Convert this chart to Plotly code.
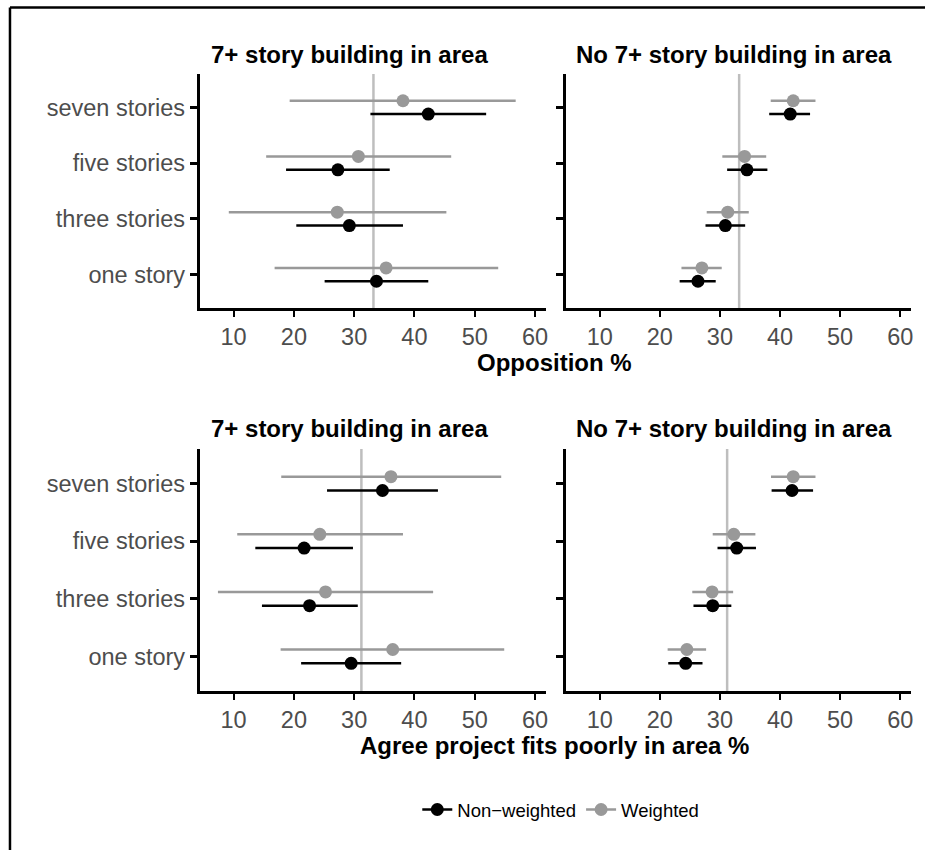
import plotly.graph_objects as go

# ---------------- data ----------------
categories = ["one story", "three stories", "five stories", "seven stories"]
x_ticks = [10, 20, 30, 40, 50, 60]
series_names = ["Non\u2212weighted", "Weighted"]
panel_titles = ["7+ story building in area", "No 7+ story building in area"]
outcome_titles = ["Opposition %", "Agree project fits poorly in area %"]

# Opposition %, 7+ story building in area
opp_in_nw_est = [33.7, 29.2, 27.3, 42.3]
opp_in_nw_lo = [25.1, 20.4, 18.7, 32.7]
opp_in_nw_hi = [42.3, 38.1, 35.9, 51.9]
opp_in_w_est = [35.3, 27.2, 30.7, 38.1]
opp_in_w_lo = [16.8, 9.2, 15.4, 19.3]
opp_in_w_hi = [53.9, 45.3, 46.1, 56.8]
# Opposition %, no 7+ story building in area
opp_out_nw_est = [26.35, 30.9, 34.5, 41.7]
opp_out_nw_lo = [23.3, 27.6, 31.2, 38.2]
opp_out_nw_hi = [29.3, 34.2, 37.9, 45.0]
opp_out_w_est = [27.0, 31.3, 34.1, 42.2]
opp_out_w_lo = [23.6, 27.8, 30.4, 38.45]
opp_out_w_hi = [30.3, 34.8, 37.7, 45.9]
opp_ref = 33.2

# Fits poorly %, 7+ story building in area
fit_in_nw_est = [29.5, 22.6, 21.7, 34.7]
fit_in_nw_lo = [21.2, 14.7, 13.6, 25.5]
fit_in_nw_hi = [37.8, 30.6, 29.8, 43.9]
fit_in_w_est = [36.4, 25.25, 24.3, 36.1]
fit_in_w_lo = [17.8, 7.4, 10.6, 17.9]
fit_in_w_hi = [54.9, 43.1, 38.1, 54.4]
# Fits poorly %, no 7+ story building in area
fit_out_nw_est = [24.3, 28.8, 32.8, 42.0]
fit_out_nw_lo = [21.4, 25.6, 29.6, 38.6]
fit_out_nw_hi = [27.1, 31.9, 36.0, 45.5]
fit_out_w_est = [24.5, 28.7, 32.3, 42.2]
fit_out_w_lo = [21.3, 25.4, 28.8, 38.5]
fit_out_w_hi = [27.7, 32.2, 35.9, 45.9]
fit_ref = 31.2

# ---------------- style / layout ----------------
W, H = 925, 850
FONT = "Liberation Sans"
BLACK = "#000000"
GRAY = "#999999"
REF = "#bebebe"
TICKGRAY = "#4d4d4d"
DODGE = 0.12
MSIZE = 13
LW = 2.5

def px_x(p):
    return p / W

def px_y(p):
    return 1 - p / H

# panel pixel boxes: (x0, x1, ytop, ybottom)
boxes = [
    (200, 547, 74, 308),
    (567, 913, 74, 308),
    (200, 547, 449, 691),
    (567, 913, 449, 691),
]

panels = [
    (opp_in_nw_est, opp_in_nw_lo, opp_in_nw_hi, opp_in_w_est, opp_in_w_lo, opp_in_w_hi, opp_ref),
    (opp_out_nw_est, opp_out_nw_lo, opp_out_nw_hi, opp_out_w_est, opp_out_w_lo, opp_out_w_hi, opp_ref),
    (fit_in_nw_est, fit_in_nw_lo, fit_in_nw_hi, fit_in_w_est, fit_in_w_lo, fit_in_w_hi, fit_ref),
    (fit_out_nw_est, fit_out_nw_lo, fit_out_nw_hi, fit_out_w_est, fit_out_w_lo, fit_out_w_hi, fit_ref),
]

fig = go.Figure()
ypos = list(range(len(categories)))

for i, (nw_e, nw_l, nw_h, w_e, w_l, w_h, ref) in enumerate(panels):
    sfx = "" if i == 0 else str(i + 1)
    xa, ya = "x" + sfx, "y" + sfx
    for est, lo, hi, col, off in [(w_e, w_l, w_h, GRAY, DODGE), (nw_e, nw_l, nw_h, BLACK, -DODGE)]:
        fig.add_trace(go.Scatter(
            x=est, y=[p + off for p in ypos], xaxis=xa, yaxis=ya,
            mode="markers", showlegend=False, hoverinfo="skip",
            marker=dict(size=MSIZE, color=col),
            error_x=dict(type="data", symmetric=False,
                         array=[h - e for h, e in zip(hi, est)],
                         arrayminus=[e - l for e, l in zip(est, lo)],
                         color=col, thickness=LW, width=0),
        ))
    fig.add_shape(type="line", xref=xa, yref=ya + " domain", x0=ref, x1=ref, y0=0, y1=1,
                  line=dict(color=REF, width=LW), layer="below")

# legend dummies
for name, col in zip(series_names, [BLACK, GRAY]):
    fig.add_trace(go.Scatter(x=[None], y=[None], mode="lines+markers", name=name,
                             line=dict(color=col, width=LW), marker=dict(size=MSIZE, color=col)))

layout = dict(
    width=W, height=H, margin=dict(l=0, r=0, t=0, b=0),
    paper_bgcolor="white", plot_bgcolor="white",
    font=dict(family=FONT, color=BLACK),
    showlegend=True,
    legend=dict(orientation="h", x=px_x(562), xanchor="center", y=px_y(810), yanchor="middle",
                font=dict(size=18.5, color=BLACK), itemwidth=30, tracegroupgap=0),
)
for i, (x0, x1, yt, yb) in enumerate(boxes):
    sfx = "" if i == 0 else str(i + 1)
    layout["xaxis" + sfx] = dict(
        domain=[px_x(x0), px_x(x1)], anchor="y" + sfx, range=[4.35, 61.8],
        tickvals=x_ticks, ticks="outside", ticklen=6, tickwidth=2, tickcolor=BLACK,
        showline=True, linecolor=BLACK, linewidth=2.5, showgrid=False, zeroline=False,
        tickfont=dict(size=23.5, color=TICKGRAY, family=FONT),
    )
    layout["yaxis" + sfx] = dict(
        domain=[px_y(yb), px_y(yt)], anchor="x" + sfx, range=[-0.6, 3.6],
        tickvals=ypos, ticktext=categories if i % 2 == 0 else [""] * len(categories),
        ticks="outside", ticklen=7, tickwidth=2.5, tickcolor=BLACK,
        showline=True, linecolor=BLACK, linewidth=2.5, showgrid=False, zeroline=False,
        tickfont=dict(size=23.5, color=TICKGRAY, family=FONT),
    )
fig.update_layout(**layout)

# panel titles
title_pos = [(350, 55), (736, 55), (350, 428), (736, 428)]
for i, (tx, ty) in enumerate(title_pos):
    fig.add_annotation(text="<b>%s</b>" % panel_titles[i % 2], xref="paper", yref="paper",
                       x=px_x(tx), y=px_y(ty), xanchor="center", yanchor="middle",
                       showarrow=False, font=dict(size=24, color=BLACK, family=FONT))
# outcome axis titles
for txt, ty in zip(outcome_titles, [362, 745]):
    fig.add_annotation(text="<b>%s</b>" % txt, xref="paper", yref="paper",
                       x=px_x(556), y=px_y(ty), xanchor="center", yanchor="middle",
                       showarrow=False, font=dict(size=24, color=BLACK, family=FONT))

# outer frame (top and left edges)
fig.add_shape(type="line", xref="paper", yref="paper", x0=px_x(10), x1=px_x(10),
              y0=px_y(7.5), y1=-0.05, line=dict(color=BLACK, width=2.5))
fig.add_shape(type="line", xref="paper", yref="paper", x0=px_x(10), x1=1.05,
              y0=px_y(7.5), y1=px_y(7.5), line=dict(color=BLACK, width=2.5))

fig.write_html("out.html", config={"displayModeBar": False},
               post_script="document.body.style.margin='0px';")
